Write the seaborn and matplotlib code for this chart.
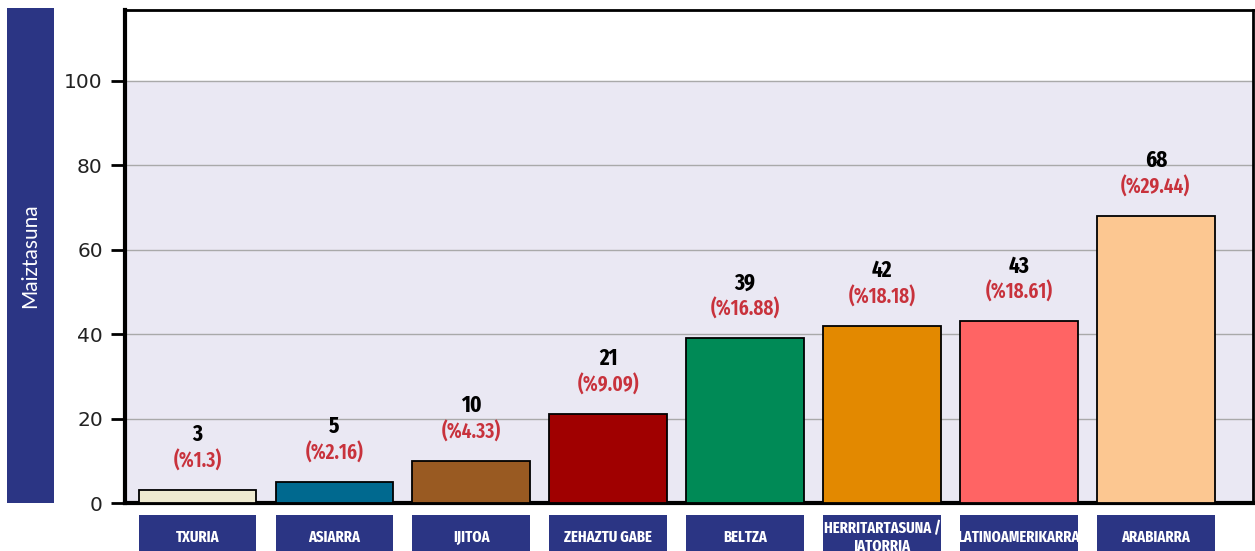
import matplotlib.pyplot as plt
import matplotlib.patches as mpatches
from matplotlib import font_manager as fm
import pandas as pd
import seaborn as sns

categories = ["TXURIA", "ASIARRA", "IJITOA", "ZEHAZTU GABE", "BELTZA",
              "HERRITARTASUNA /\nJATORRIA", "LATINOAMERIKARRA", "ARABIARRA"]
counts = [3, 5, 10, 21, 39, 42, 43, 68]
percents = ["1.3", "2.16", "4.33", "9.09", "16.88", "18.18", "18.61", "29.44"]
colors = ["#EEEAD0", "#00698F", "#995A22", "#A00000", "#008A56",
          "#E38900", "#FF6464", "#FCC791"]
yticks = [0, 20, 40, 60, 80, 100]

navy = "#2B3584"
df = pd.DataFrame({"cat": categories, "n": counts})


def condensed_font(target_weight=700):
    # look for the narrowest bold font that is installed
    best, best_score = None, None
    for f in fm.fontManager.ttflist:
        fn = f.fname.lower().replace("-", "").replace("_", "")
        if f.style != "normal":
            continue
        if "extracondensed" in fn:
            s = 0
        elif "semicondensed" in fn:
            s = 2
        elif "condensed" in fn or "narrow" in fn:
            s = 1
        else:
            continue
        try:
            w = int(f.weight)
        except (TypeError, ValueError):
            w = 700 if "bold" in str(f.weight) else 400
        score = (s, abs(w - target_weight))
        if best_score is None or score < best_score:
            best, best_score = f.fname, score
    if best is None:
        return fm.FontProperties(family="DejaVu Sans", weight="bold", stretch="condensed")
    return fm.FontProperties(fname=best)


bold_cond = condensed_font(700)
semi_cond = condensed_font(600)

sns.set_style("white")

fig = plt.figure(figsize=(12.55, 5.51), dpi=100)
ax = fig.add_axes([0.0996, 0.0871, 0.8988, 0.8948])

ax.axhspan(0, 100, color="#EAE8F3", zorder=0)
sns.barplot(data=df, x="cat", y="n", hue="cat", palette=colors, legend=False,
            width=0.86, edgecolor="black", linewidth=1.3, saturation=1, ax=ax, zorder=3)

ax.set_ylim(0, 116.8)
ax.set_xlim(-0.53, 7.71)
ax.set_yticks(yticks)
for t in yticks[1:]:
    ax.axhline(t, color="#A9A9A9", lw=1, zorder=1)
ax.tick_params(axis="y", direction="out", length=10, width=2, color="black",
               labelsize=14.5, labelcolor="#222222", left=True, pad=6)
ax.set_xticks(range(len(categories)))
ax.set_xticklabels([])
ax.tick_params(axis="x", length=0)
ax.set_xlabel("")
ax.set_ylabel("")
for side, lw in [("left", 3), ("bottom", 3), ("top", 2), ("right", 2)]:
    ax.spines[side].set_visible(True)
    ax.spines[side].set_color("black")
    ax.spines[side].set_linewidth(lw)

# value + percent labels
for i, (n, p) in enumerate(zip(counts, percents)):
    ax.annotate(f"(%{p})", (i, n), xytext=(0, 21), textcoords="offset points",
                ha="center", va="center", fontproperties=semi_cond, fontsize=15,
                color="#C8323C")
    ax.annotate(str(n), (i, n), xytext=(0, 40), textcoords="offset points",
                ha="center", va="center", fontproperties=bold_cond, fontsize=16.5,
                color="black")

# category label boxes below the axes
trans = ax.get_xaxis_transform()
for i, c in enumerate(categories):
    box = mpatches.Rectangle((i - 0.43, -0.12), 0.86, 0.096, transform=trans,
                             facecolor=navy, edgecolor="none", clip_on=False)
    ax.add_patch(box)
    ax.text(i, -0.07, c, transform=trans, ha="center", va="center", color="white",
            fontproperties=bold_cond, fontsize=11.4, clip_on=False, linespacing=1.2)

# y label box
fig.patches.append(mpatches.Rectangle((7 / 1255, 1 - 503 / 551), 47 / 1255, 495 / 551,
                                      transform=fig.transFigure, facecolor=navy,
                                      edgecolor="none"))
fig.text(30.5 / 1255, 1 - 256 / 551, "Maiztasuna", rotation=90, ha="center",
         va="center", color="white", fontsize=15, family="Lato")

fig.savefig("out.png", dpi=100)
